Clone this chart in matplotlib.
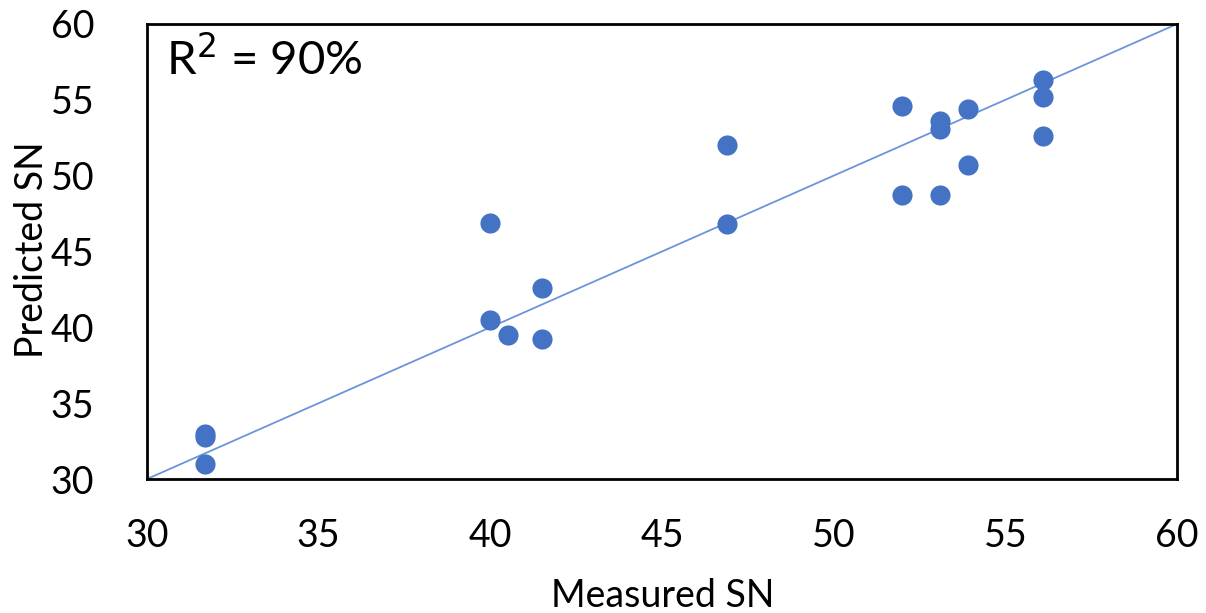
import matplotlib
matplotlib.use("Agg")
import matplotlib.pyplot as plt

# measured vs predicted SN
measured = [31.7, 31.7, 31.7, 40.0, 40.0, 40.5, 41.5, 41.5, 46.9, 46.9,
            52.0, 52.0, 53.1, 53.1, 53.1, 53.9, 53.9, 56.1, 56.1, 56.1]
predicted = [33.0, 32.8, 31.0, 46.9, 40.5, 39.5, 42.6, 39.2, 52.0, 46.8,
             54.6, 48.7, 53.6, 53.1, 48.7, 54.4, 50.7, 56.3, 55.2, 52.6]
fit_x = [30, 60]
fit_y = [30, 60]
ticks = [30, 35, 40, 45, 50, 55, 60]

plt.rcParams['font.family'] = ['Lato', 'DejaVu Sans']

fig = plt.figure(figsize=(12.06, 6.13), dpi=100)
ax = fig.add_axes([147/1206, 1 - 479/613, (1177 - 147)/1206, (479 - 24)/613])

ax.plot(fit_x, fit_y, color='#6A95DA', lw=1.3, zorder=2)
ax.plot(measured, predicted, 'o', color='#4472C4', markersize=14.5,
        markeredgewidth=0, zorder=3)

ax.set_xlim(30, 60)
ax.set_ylim(30, 60)
ax.set_xticks(ticks)
ax.set_yticks(ticks)
ax.tick_params(length=0, labelsize=27)
ax.tick_params(axis='y', pad=38)
ax.tick_params(axis='x', pad=28)
for s in ax.spines.values():
    s.set_linewidth(2)
    s.set_color('black')

ax.text(0.018, 0.975, 'R$^2$ = 90%', transform=ax.transAxes, fontsize=34,
        va='top', ha='left')

fig.text(663/1206, 1 - 596/613, 'Measured SN', fontsize=27, ha='center', va='center')
fig.text(32/1206, 1 - 250/613, 'Predicted SN', fontsize=27, ha='center', va='center',
         rotation=90)

fig.savefig('out.png', dpi=100)
